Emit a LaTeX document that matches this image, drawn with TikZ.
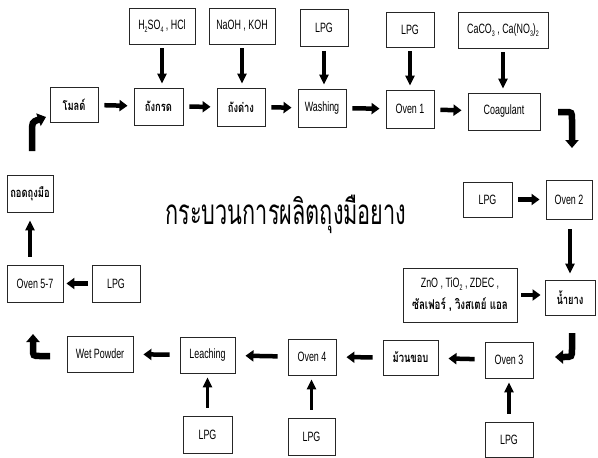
\documentclass[tikz,border=0pt]{standalone}
\usepackage{fontspec}
\setmainfont[FakeStretch=0.66]{Liberation Sans}
\newfontfamily\thai[Script=Thai,FakeStretch=0.72]{Loma}
\newfontfamily\thaititle[Script=Thai,FakeStretch=0.62]{Loma}
\usetikzlibrary{arrows.meta}
\newcommand{\lsub}[1]{\raisebox{-0.4ex}{\fontsize{8}{8}\selectfont #1}}
\tikzset{
  box/.style 2 args={draw=black!85, line width=0.9pt, minimum width=#1, minimum height=#2,
    inner sep=0pt, align=center, font=\fontsize{13.5}{16}\selectfont},
  thaitxt/.style={font=\thai\bfseries\fontsize{13}{16}\selectfont},
  harr/.style={line width=4.5pt, -{Triangle[width=11pt,length=8pt]}, shorten <=6pt, shorten >=6pt},
  varr/.style={line width=3.5pt, -{Triangle[width=9pt,length=10pt]}, shorten <=4pt, shorten >=4pt},
  curv/.style={line width=6.5pt, -{Triangle[width=13pt,length=8pt]}}
}
\begin{document}
\begin{tikzpicture}[x=1pt,y=-1pt]
\fill[white] (0,0) rectangle (598,458);
\useasboundingbox (0,0) rectangle (598,458);

% top row
\node[box={48pt}{35pt}, thaitxt] (mold)  at (74,104.5) {โมลด์};
\node[box={49pt}{37pt}, thaitxt] (acid)  at (158.5,106.5) {ถังกรด};
\node[box={48pt}{38pt}, thaitxt] (base)  at (241,107) {ถังด่าง};
\node[box={48pt}{38pt}] (wash)  at (322,108) {Washing};
\node[box={48pt}{38pt}] (oven1) at (410,109) {Oven 1};
\node[box={72pt}{37pt}] (coag)  at (504,111.5) {Coagulant};

% top inputs
\node[box={66pt}{36pt}] (in1) at (162,26) {H\lsub{2}SO\lsub{4} , HCl};
\node[box={66pt}{36pt}] (in2) at (242,26) {NaOH , KOH};
\node[box={48pt}{37pt}] (in3) at (324,28) {LPG};
\node[box={48pt}{35pt}] (in4) at (410,29.5) {LPG};
\node[box={90pt}{36pt}] (in5) at (503,30) {CaCO\lsub{3} , Ca(NO\lsub{3})\lsub{2}};

% right side
\node[box={49pt}{35pt}] (lpg2)  at (487.5,199.5) {LPG};
\node[box={46pt}{39pt}] (oven2) at (569,199.5) {Oven 2};
\node[box={50pt}{35pt}, thaitxt] (latex) at (570,297.5) {น้ำยาง};
\node[box={114pt}{54pt}, font=\fontsize{13.5}{22}\selectfont] (chem) at (460,295) {ZnO , TiO\lsub{2} , ZDEC ,\\ \thai\bfseries ซัลเฟอร์ , วิงสเตย์ แอล};

% bottom row
\node[box={48pt}{36pt}] (oven3) at (509,360) {Oven 3};
\node[box={55pt}{35pt}, thaitxt] (roll)  at (410.5,357.5) {ม้วนขอบ};
\node[box={48pt}{36pt}] (oven4) at (312,357) {Oven 4};
\node[box={55pt}{36pt}] (leach) at (207.5,355) {Leaching};
\node[box={66pt}{36pt}] (wet)   at (100,354) {Wet Powder};

\node[box={49pt}{37pt}] (lpg3) at (207.5,434.5) {LPG};
\node[box={47pt}{37pt}] (lpg4) at (311.5,436.5) {LPG};
\node[box={48pt}{35pt}] (lpg5) at (509,439.5) {LPG};

% left side
\node[box={46pt}{37pt}, thaitxt] (strip)  at (30,193.5) {ถอดถุงมือ};
\node[box={56pt}{37pt}] (oven57) at (35,283.5) {Oven 5-7};
\node[box={48pt}{37pt}] (lpg6)   at (116,283.5) {LPG};

% title
\node (title) at (286,214) {\thaititle\fontsize{35}{40}\selectfont กระบวนการผลิตถุงมือยาง};

% horizontal flow
\draw[harr] (mold) -- (acid);
\draw[harr] (acid) -- (base);
\draw[harr] (base) -- (wash);
\draw[harr] (wash) -- (oven1);
\draw[harr] (oven1) -- (coag);
\draw[harr] (lpg2) -- (oven2);
\draw[harr, shorten <=4pt, shorten >=4pt] (chem) -- (chem -| latex.west);
\draw[harr, shorten <=10pt, shorten >=10pt] (oven3) -- (roll);
\draw[harr, shorten <=10pt, shorten >=10pt] (roll) -- (oven4);
\draw[harr, shorten <=10pt, shorten >=10pt] (oven4) -- (leach);
\draw[harr, shorten <=10pt, shorten >=10pt] (leach) -- (wet);
\draw[harr, shorten <=4pt, shorten >=3pt] (lpg6) -- (oven57);

% vertical
\draw[varr] (in1.south) -- (in1.south |- acid.north);
\draw[varr] (in2.south) -- (in2.south |- base.north);
\draw[varr] (in3.south) -- (in3.south |- wash.north);
\draw[varr] (in4.south) -- (in4.south |- oven1.north);
\draw[varr] (in5.south) -- (in5.south |- coag.north);
\draw[varr, shorten <=10pt, shorten >=6pt] (oven2.south -| latex.north) -- (latex.north);
\draw[varr, shorten <=8pt] (lpg3.north) -- (leach.south);
\draw[varr, shorten <=8pt] (lpg4.north) -- (lpg4.north |- oven4.south);
\draw[varr, shorten <=8pt] (lpg5.north) -- (oven3.south);
\draw[varr, shorten <=8pt, shorten >=8pt] (oven57.north -| strip.south) -- (strip.south);

% curved flow arrows
\coordinate (c1) at (558,112);
\draw[curv] (c1) -- (565,112) .. controls (572,112) .. (572,120) -- (572,148);
\coordinate (c2) at (572,333);
\draw[curv] (c2) -- (572,349) .. controls (572,357) .. (564,357) -- (555,357);
\coordinate (c3) at (50,356);
\draw[curv] (c3) -- (40,356) .. controls (33,356) .. (33,349) -- (33,334);
\coordinate (c4) at (32,151);
\draw[curv] (c4) -- (32,133) .. controls (32,122) .. (46,117);
\end{tikzpicture}
\end{document}
